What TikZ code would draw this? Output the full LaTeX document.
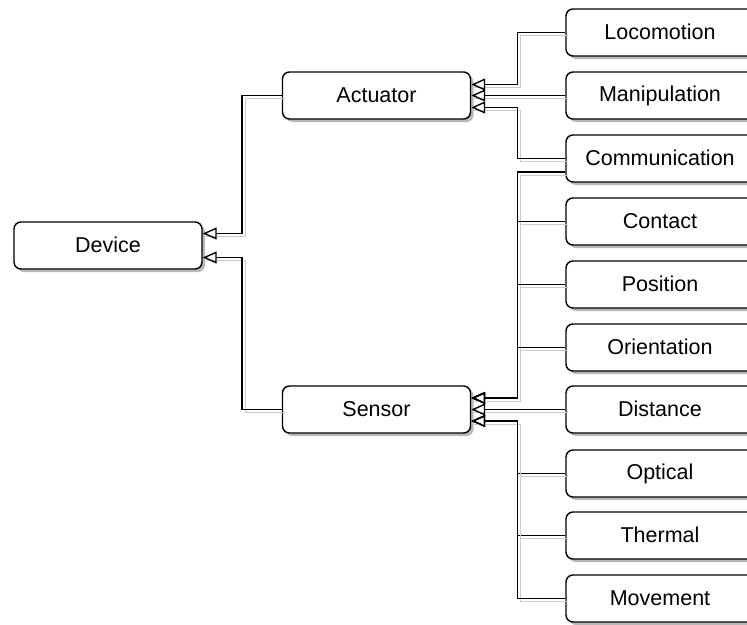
\documentclass[tikz,border=0pt]{standalone}
\usepackage{fontspec}
\setmainfont{Liberation Sans}
\usetikzlibrary{arrows.meta,shadows}
\begin{document}
\begin{tikzpicture}[x=1pt,y=-1pt,
  box/.style={draw=black, line width=1.4pt, fill=white, rounded corners=7pt,
    minimum width=188pt, minimum height=47pt, inner sep=0pt,
    font=\fontsize{21.5}{25}\selectfont,
    drop shadow={shadow xshift=3pt, shadow yshift=-3pt, fill=black!28, opacity=1}},
  edge/.style={line width=1.4pt, draw=black,
    -{Triangle[open, length=14pt, width=12pt, line width=1.4pt]},
    preaction={draw=black!20, -, transform canvas={xshift=3pt, yshift=-3pt}}}
]
\useasboundingbox (0,0) rectangle (747,624);
\fill[white] (0,0) rectangle (747,624);

\node[box] (dev) at (108,245.5) {\raisebox{1.5pt}{Device}};
\node[box] (act) at (376.5,95.5) {\raisebox{1.5pt}{Actuator}};
\node[box] (sen) at (376.5,409.5) {\raisebox{1.5pt}{Sensor}};

\node[box] (loco) at (660,32.5) {\raisebox{1.5pt}{Locomotion}};
\node[box] (mani) at (660,95.5) {\raisebox{1.5pt}{Manipulation}};
\node[box] (comm) at (660,158.5) {\raisebox{1.5pt}{Communication}};
\node[box] (cont) at (660,221.5) {\raisebox{1.5pt}{Contact}};
\node[box] (posi) at (660,284.5) {\raisebox{1.5pt}{Position}};
\node[box] (orie) at (660,347.5) {\raisebox{1.5pt}{Orientation}};
\node[box] (dist) at (660,409.5) {\raisebox{1.5pt}{Distance}};
\node[box] (opti) at (660,473.5) {\raisebox{1.5pt}{Optical}};
\node[box] (ther) at (660,535.5) {\raisebox{1.5pt}{Thermal}};
\node[box] (move) at (660,598.5) {\raisebox{1.5pt}{Movement}};

% Device
\draw[edge] (act.west) -- ++(-40,0) |- ([yshift=12pt]dev.east);
\draw[edge] (sen.west) -- ++(-40,0) |- ([yshift=-12pt]dev.east);

% Actuator
\draw[edge] (loco.west) -- ++(-48,0) |- ([yshift=11pt]act.east);
\draw[edge] (mani.west) -- (act.east);
\draw[edge] (comm.west) -- ++(-48,0) |- ([yshift=-12pt]act.east);

% Sensor
\draw[edge] ([yshift=-13.5pt]comm.west) -- ++(-48,0) |- ([yshift=11.5pt]sen.east);
\draw[edge] (cont.west) -- ++(-48,0) |- ([yshift=11.5pt]sen.east);
\draw[edge] (posi.west) -- ++(-48,0) |- ([yshift=11.5pt]sen.east);
\draw[edge] (orie.west) -- ++(-48,0) |- ([yshift=11.5pt]sen.east);
\draw[edge] (dist.west) -- (sen.east);
\draw[edge] (opti.west) -- ++(-48,0) |- ([yshift=-11.5pt]sen.east);
\draw[edge] (ther.west) -- ++(-48,0) |- ([yshift=-11.5pt]sen.east);
\draw[edge] (move.west) -- ++(-48,0) |- ([yshift=-11.5pt]sen.east);
\end{tikzpicture}
\end{document}
